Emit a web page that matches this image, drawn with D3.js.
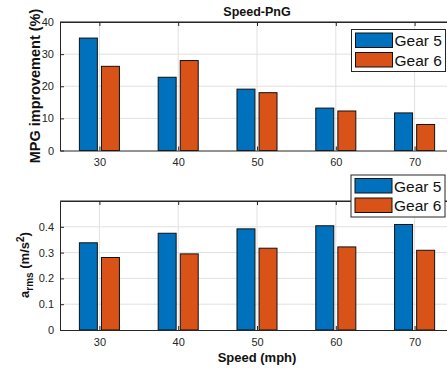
<!DOCTYPE html>
<html><head><meta charset="utf-8">
<script src="https://cdn.jsdelivr.net/npm/d3@7"></script>
<style>
body{margin:0;background:#fff;}
svg{display:block;font-family:"Liberation Sans",Arial,Helvetica,sans-serif;}
</style></head>
<body><svg id="c" width="447" height="368"></svg>
<script>
const speeds = [30, 40, 50, 60, 70];
const seriesNames = ["Gear 5", "Gear 6"];
const mpgGear5 = [35.0, 22.8, 19.1, 13.2, 11.7];
const mpgGear6 = [26.2, 28.0, 18.0, 12.3, 8.1];
const armsGear5 = [0.338, 0.375, 0.392, 0.404, 0.409];
const armsGear6 = [0.281, 0.295, 0.317, 0.322, 0.309];
const mpgTicks = [0, 10, 20, 30, 40];
const armsTicks = [0, 0.1, 0.2, 0.3, 0.4];
const colors = ["#0072BD", "#D95319"];

const svg = d3.select("#c");
const axisColor = "#262626";
const gridColor = "#e0e0e0";
const x = d3.scaleLinear().domain([25, 75]).range([60, 454]);
const barW = 2.28, barOff = 1.4;

function panel(yDomain, yRange, ticks, g5, g6, tickFmt) {
  const y = d3.scaleLinear().domain(yDomain).range(yRange);
  const g = svg.append("g");
  const [x0, x1] = x.range();
  g.selectAll(".gy").data(ticks.filter(t => t > yDomain[0])).enter().append("line")
    .attr("x1", x0).attr("x2", x1).attr("y1", d => y(d)).attr("y2", d => y(d))
    .attr("stroke", gridColor).attr("stroke-width", 1);
  g.selectAll(".gx").data(speeds).enter().append("line")
    .attr("x1", d => x(d)).attr("x2", d => x(d)).attr("y1", y.range()[0]).attr("y2", y.range()[1])
    .attr("stroke", gridColor).attr("stroke-width", 1);
  [g5, g6].forEach((vals, si) => {
    g.selectAll(".b" + si).data(vals).enter().append("rect")
      .attr("x", (d, i) => x(speeds[i] + (si === 0 ? -barOff : barOff) - barW / 2))
      .attr("width", x(25 + barW) - x(25))
      .attr("y", d => y(d))
      .attr("height", d => y(yDomain[0]) - y(d))
      .attr("fill", colors[si]).attr("stroke", "#111").attr("stroke-width", 1);
  });
  g.append("line").attr("x1", x0).attr("x2", x1).attr("y1", y.range()[1]).attr("y2", y.range()[1]).attr("stroke", axisColor);
  const ax = g.append("g").attr("transform", `translate(0,${y.range()[0]})`)
    .call(d3.axisBottom(x).tickValues(speeds).tickSizeInner(-4).tickSizeOuter(0).tickPadding(8));
  const axTop = g.append("g").attr("transform", `translate(0,${y.range()[1]})`)
    .call(d3.axisTop(x).tickValues(speeds).tickSizeInner(-4).tickSizeOuter(0).tickFormat(""));
  const ay = g.append("g").attr("transform", `translate(${x0},0)`)
    .call(d3.axisLeft(y).tickValues(ticks).tickSizeInner(-4).tickSizeOuter(0).tickPadding(6).tickFormat(tickFmt));
  [ax, axTop, ay].forEach(a => {
    a.select(".domain").attr("stroke", axisColor).attr("stroke-width", 1);
    a.selectAll(".tick line").attr("stroke", axisColor);
    a.selectAll("text").attr("fill", axisColor).attr("font-size", 11).attr("font-family", "Liberation Sans, Arial, sans-serif");
  });
  return y;
}

function legend(left, top) {
  const g = svg.append("g");
  g.append("rect").attr("x", left).attr("y", top).attr("width", 94).attr("height", 42)
    .attr("fill", "#fff").attr("stroke", axisColor).attr("stroke-width", 1);
  seriesNames.forEach((n, i) => {
    g.append("rect").attr("x", left + 4).attr("y", top + 3.5 + i * 19.5).attr("width", 37).attr("height", 14.5)
      .attr("fill", colors[i]).attr("stroke", "#111");
    g.append("text").attr("x", left + 43).attr("y", top + 16.5 + i * 19.5).text(n)
      .attr("font-size", 15.5).attr("fill", "#111");
  });
}

panel([0, 40], [150.5, 22], mpgTicks, mpgGear5, mpgGear6, d3.format("d"));
panel([0, 0.5], [330, 201], armsTicks, armsGear5, armsGear6, d => d === 0 ? "0" : d3.format(".1f")(d));
legend(351.5, 29.5);
legend(351, 175);

svg.append("text").attr("x", 257).attr("y", 16).attr("text-anchor", "middle")
  .attr("font-size", 12.5).attr("font-weight", "bold").attr("fill", "#111").text("Speed-PnG");
svg.append("text").attr("transform", "translate(40,86) rotate(-90)").attr("text-anchor", "middle")
  .attr("font-size", 14.5).attr("font-weight", "bold").attr("fill", "#111").text("MPG improvement (%)");
const yl2 = svg.append("text").attr("transform", "translate(29,265) rotate(-90)").attr("text-anchor", "middle")
  .attr("font-size", 13).attr("font-weight", "bold").attr("fill", "#111");
yl2.append("tspan").text("a");
yl2.append("tspan").attr("font-size", 10).attr("dy", 4).text("rms");
yl2.append("tspan").attr("dy", -4).text(" (m/s");
yl2.append("tspan").attr("font-size", 10).attr("dy", -5).text("2");
yl2.append("tspan").attr("dy", 5).text(")");
svg.append("text").attr("x", 257).attr("y", 362).attr("text-anchor", "middle")
  .attr("font-size", 13).attr("font-weight", "bold").attr("fill", "#111").text("Speed (mph)");
</script></body></html>
